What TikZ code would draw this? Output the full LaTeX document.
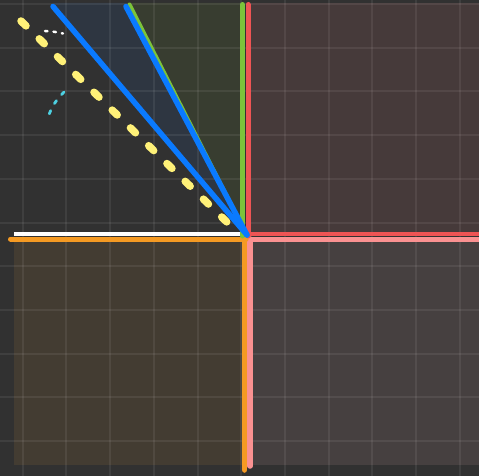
\documentclass[tikz,border=0pt]{standalone}
\begin{document}
\begin{tikzpicture}[x=1pt,y=-1pt,
  gridline/.style={white,opacity=0.07,line width=2pt},
  axisline/.style={line width=#1,line cap=round},
  axisline/.default=5pt]
\definecolor{bgc}{RGB}{49,49,49}
\definecolor{trq}{RGB}{70,58,58}
\definecolor{brq}{RGB}{70,64,64}
\definecolor{blq}{RGB}{67,60,50}
\definecolor{gwq}{RGB}{56,61,48}
\definecolor{bwq}{RGB}{46,54,65}
\definecolor{blueL}{RGB}{10,122,255}
\definecolor{greenL}{RGB}{124,195,58}
\definecolor{redL}{RGB}{238,84,84}
\definecolor{pinkL}{RGB}{250,145,145}
\definecolor{orangeL}{RGB}{245,154,35}
\definecolor{yellowL}{RGB}{255,241,120}
\definecolor{cyanL}{RGB}{77,208,225}
\fill[bgc] (0,0) rectangle (479,476);
\useasboundingbox (0,0) rectangle (479,476);
% quadrant fills
\fill[trq] (248,3) rectangle (479,236);
\fill[brq] (250,238) rectangle (479,465);
\fill[blq] (14,238) rectangle (246,465);
\fill[gwq] (128,3) -- (242,3) -- (242,236) -- (246,236) -- cycle;
\fill[bwq] (52,3) -- (126,3) -- (246,236) -- cycle;
% grid
\foreach \k in {0,...,10} {
  \draw[gridline] ({22.7+43.7*\k},0) -- ({22.7+43.7*\k},476);
  \draw[gridline] (0,{4+43.7*\k}) -- (479,{4+43.7*\k});
}
% named coordinates
\coordinate (O) at (246,236);
\coordinate (gvTop) at (242.5,4.5);
\coordinate (gvBot) at (242.5,236);
\coordinate (rvTop) at (248,4.5);
\coordinate (rvBot) at (248,236);
\coordinate (rhL) at (246,234);
\coordinate (rhR) at (482,234);
\coordinate (phL) at (246,239);
\coordinate (phR) at (482,239);
\coordinate (pvTop) at (250,239);
\coordinate (pvBot) at (250,466);
\coordinate (ovTop) at (244.5,239);
\coordinate (ovBot) at (244.5,470);
\coordinate (ohL) at (10.5,239);
\coordinate (ohR) at (246,239);
\coordinate (whL) at (14,234);
\coordinate (whR) at (246,234);
\coordinate (gdTop) at (129.5,4.5);
\coordinate (gdBot) at (246,234);
\coordinate (b1Top) at (53,6.5);
\coordinate (b2Top) at (126,6.5);
\coordinate (bBot) at (247,235);
\coordinate (yTop) at (21,21);
\coordinate (yBot) at (234,229);
% lines
\draw[axisline=5pt,color=pinkL] (phL) -- (phR);
\draw[axisline=4.5pt,color=redL] (rhL) -- (rhR);
\draw[axisline=5.5pt,color=pinkL] (pvTop) -- (pvBot);
\draw[axisline=5.5pt,color=orangeL] (ovTop) -- (ovBot);
\draw[axisline=5pt,color=orangeL] (ohL) -- (ohR);
\draw[line width=3.5pt,white] (whL) -- (whR);
\draw[axisline=5pt,color=redL] (rvTop) -- (rvBot);
\draw[axisline=5pt,color=greenL] (gvTop) -- (gvBot);
\draw[axisline=4pt,color=greenL] (gdTop) -- (gdBot);
\draw[axisline=5.5pt,color=blueL] (b2Top) -- (bBot);
\draw[axisline=5.5pt,color=blueL] (b1Top) -- (bBot);
\draw[line width=7.5pt,line cap=round,color=yellowL,dash pattern=on 7pt off 18.5pt] (yTop) -- (yBot);
\coordinate (wdA) at (45,31);
\coordinate (wdB) at (63,33.5);
\draw[line width=2.5pt,line cap=round,white,dash pattern=on 2.5pt off 6pt] (wdA) .. controls (52,31) and (58,32.5) .. (wdB);
\coordinate (cdA) at (64,92);
\coordinate (cdB) at (48,118);
\draw[line width=2.8pt,line cap=round,color=cyanL,dash pattern=on 3.5pt off 8pt] (cdA) .. controls (57,99) and (51,107) .. (cdB);
\end{tikzpicture}
\end{document}
